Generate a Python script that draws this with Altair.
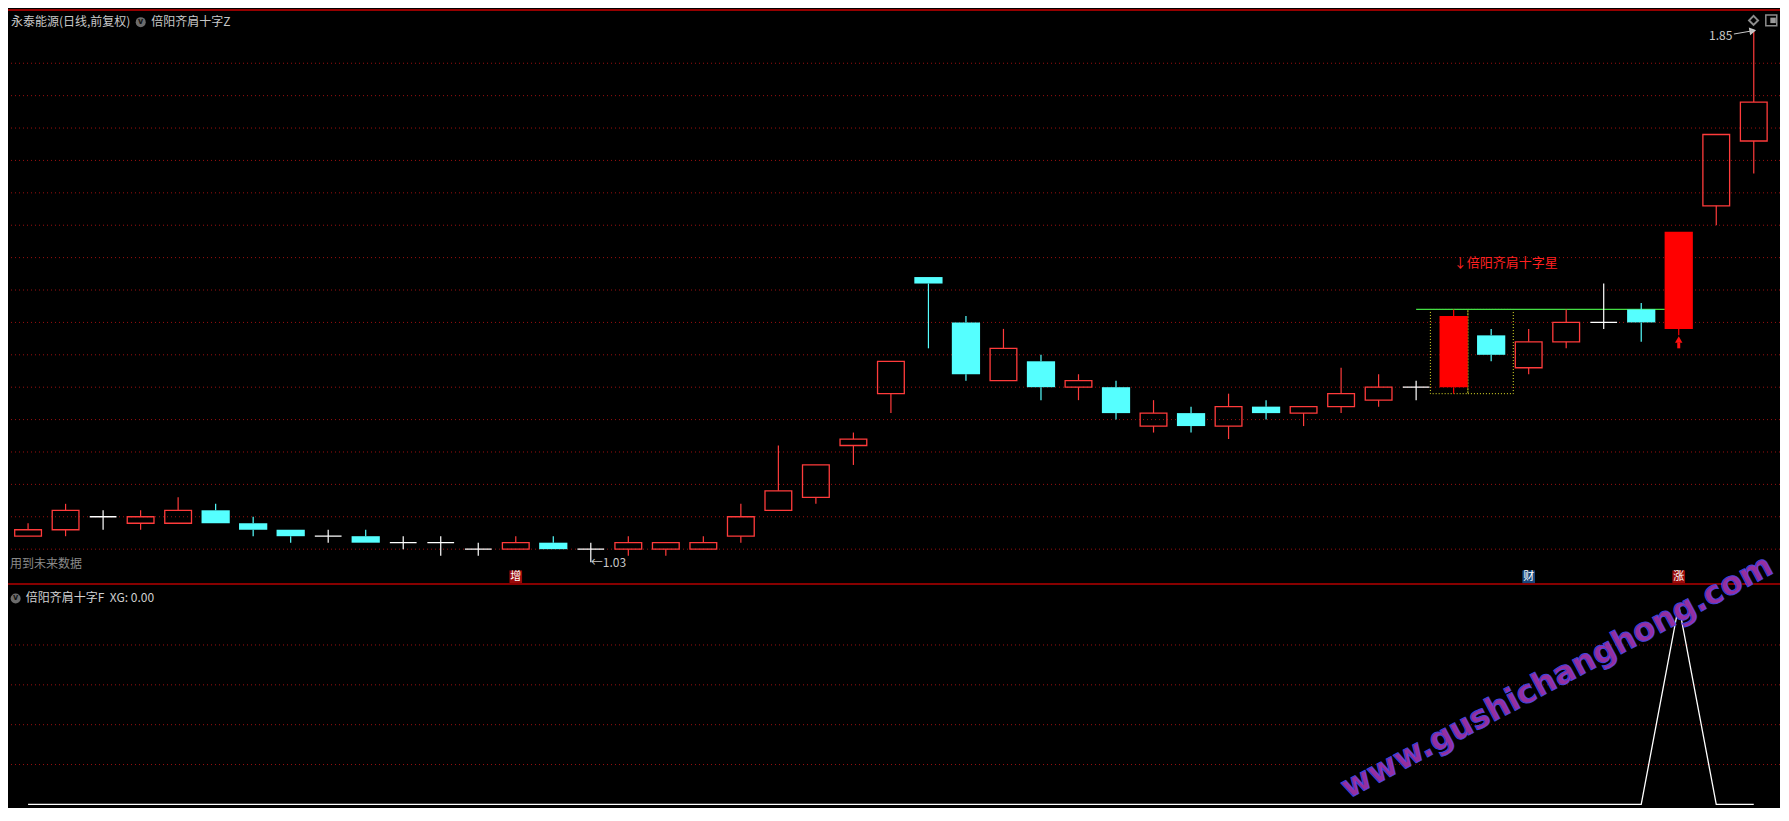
import altair as alt
import pandas as pd

# ---------------- data: 永泰能源 (日线, 前复权) ----------------
opens = [1.07, 1.08, 1.10, 1.09, 1.09, 1.11, 1.09, 1.08, 1.07, 1.07,
         1.06, 1.06, 1.05, 1.05, 1.06, 1.05, 1.05, 1.05, 1.05, 1.07,
         1.11, 1.13, 1.21, 1.29, 1.47, 1.40, 1.31, 1.34, 1.30, 1.30,
         1.24, 1.26, 1.24, 1.27, 1.26, 1.27, 1.28, 1.30, 1.30, 1.38,
         1.33, 1.37, 1.40, 1.42, 1.39, 1.58, 1.68]
highs = [1.09, 1.12, 1.11, 1.11, 1.13, 1.12, 1.10, 1.08, 1.08, 1.08,
         1.07, 1.07, 1.06, 1.07, 1.07, 1.06, 1.07, 1.06, 1.07, 1.12,
         1.21, 1.18, 1.23, 1.34, 1.47, 1.41, 1.39, 1.35, 1.32, 1.31,
         1.28, 1.27, 1.29, 1.28, 1.27, 1.33, 1.32, 1.31, 1.42, 1.39,
         1.39, 1.42, 1.46, 1.43, 1.54, 1.69, 1.85]
lows = [1.07, 1.07, 1.08, 1.08, 1.09, 1.09, 1.07, 1.06, 1.06, 1.06,
        1.05, 1.04, 1.04, 1.05, 1.05, 1.03, 1.04, 1.04, 1.05, 1.06,
        1.11, 1.12, 1.18, 1.26, 1.36, 1.31, 1.31, 1.28, 1.28, 1.25,
        1.23, 1.23, 1.22, 1.25, 1.24, 1.26, 1.27, 1.28, 1.29, 1.34,
        1.32, 1.36, 1.39, 1.37, 1.38, 1.55, 1.63]
closes = [1.08, 1.11, 1.10, 1.10, 1.11, 1.09, 1.08, 1.07, 1.07, 1.06,
          1.06, 1.06, 1.05, 1.06, 1.05, 1.05, 1.06, 1.06, 1.06, 1.10,
          1.14, 1.18, 1.22, 1.34, 1.46, 1.32, 1.36, 1.30, 1.31, 1.26,
          1.26, 1.24, 1.27, 1.26, 1.27, 1.29, 1.30, 1.30, 1.41, 1.35,
          1.37, 1.40, 1.40, 1.40, 1.54, 1.69, 1.74]
xg_values = [0, 0, 0, 0, 0, 0, 0, 0, 0, 0,
             0, 0, 0, 0, 0, 0, 0, 0, 0, 0,
             0, 0, 0, 0, 0, 0, 0, 0, 0, 0,
             0, 0, 0, 0, 0, 0, 0, 0, 0, 0,
             0, 0, 0, 0, 1, 0, 0]
special_days = [38, 44]          # 倍阳 candles drawn solid red
grid_prices = [1.05, 1.10, 1.15, 1.20, 1.25, 1.30, 1.35, 1.40,
               1.45, 1.50, 1.55, 1.60, 1.65, 1.70, 1.75, 1.80]
xg_grid = [0.2, 0.4, 0.6, 0.8]
marker_days = [13, 40, 44]
marker_labels = ["增", "财", "涨"]
marker_colors = ["#9a0a0a", "#16467c", "#9a0a0a"]
marker_price = [1.0074, 1.0074, 1.0074]
shoulder_start, shoulder_end, shoulder_level = 37.0, 43.63, 1.42
box_left = [37.38, 38.38]
box_right = [38.38, 39.59]
box_low = [1.29, 1.29]
box_high = [1.42, 1.42]
signal_text = ["↓倍阳齐肩十字星"]
signal_text_pos = [38.0, 1.491]
arrow_day = [44]
arrow_head_price = [1.3735]
arrow_stem = [1.3690, 1.3600]
low_label = ["←1.03"]
low_label_pos = [15.0, 1.0291]
high_label = ["1.85"]
high_label_pos = [45.43, 1.842]
high_arrow = [45.47, 45.96, 1.8451, 1.8500]
watermark = ["www.gushichanghong.com"]
watermark_pos = [40.75, 0.64]

# ---------------- layout ----------------
W, H = 1772, 800
RW, RH = 1789, 821
SX, SY = W / RW, H / RH


def px(v):
    return v * SX


def py(v):
    return v * SY


X0, DX = 15.3, 38.09
XLO, XHI = (0 - X0) / DX, (RW - X0) / DX
PY0, PPU = 56.7, 664.9
PLO = 1.80 - (591 - PY0) / PPU
PHI = 1.80 + PY0 / PPU
GY0, GPU = 817.3, 204.5
GLO = (GY0 - RH) / GPU
GHI = (GY0 - 591) / GPU

FONT = "Noto Sans CJK SC"

xs = alt.Scale(domain=[XLO, XHI], range=[0, W], zero=False, nice=False)
ps = alt.Scale(domain=[PLO, PHI], range=[py(591), 0], zero=False, nice=False)
gs = alt.Scale(domain=[GLO, GHI], range=[H, py(591)], zero=False, nice=False)

kinds = ["up", "down", "doji", "special"]
kind_colors = ["#ff3b3b", "#55ffff", "#ffffff", "#ff0000"]
cscale = alt.Scale(domain=kinds, range=kind_colors)

df = pd.DataFrame({"idx": list(range(len(opens))), "o": opens, "h": highs,
                   "l": lows, "c": closes})
df["top"] = df[["o", "c"]].max(axis=1)
df["bot"] = df[["o", "c"]].min(axis=1)


def kind_of(r):
    if int(r.idx) in special_days:
        return "special"
    if r.c > r.o:
        return "up"
    if r.c < r.o:
        return "down"
    return "doji"


df["kind"] = [kind_of(r) for r in df.itertuples()]


def X(f="idx"):
    return alt.X(f + ":Q", scale=xs, axis=None)


def YP(f):
    return alt.Y(f + ":Q", scale=ps, axis=None)


def YG(f):
    return alt.Y(f + ":Q", scale=gs, axis=None)


COL = alt.Color("kind:N", scale=cscale, legend=None)

layers = []

# grid lines
layers.append(alt.Chart(pd.DataFrame({"p": grid_prices})).mark_rule(
    color="#9a1010", strokeDash=[1, 3], strokeWidth=1).encode(y=YP("p")))
layers.append(alt.Chart(pd.DataFrame({"g": xg_grid})).mark_rule(
    color="#9a1010", strokeDash=[1, 3], strokeWidth=1).encode(y=YG("g")))

# frame lines
frame = pd.DataFrame({"k": [0]})
layers.append(alt.Chart(frame).mark_rule(color="#c80000", strokeWidth=1.5).encode(
    x=alt.value(0), x2=alt.value(W), y=alt.value(py(2))))
layers.append(alt.Chart(frame).mark_rule(color="#b40000", strokeWidth=1.5).encode(
    x=alt.value(0), x2=alt.value(W), y=alt.value(py(591))))

# yellow dotted boxes + green shoulder line
layers.append(alt.Chart(pd.DataFrame({"x0": box_left, "x1": box_right,
                                      "p0": box_low, "p1": box_high})).mark_rect(
    fillOpacity=0, stroke="#e6e62a", strokeDash=[1, 2], strokeWidth=1).encode(
    x=X("x0"), x2="x1", y=YP("p0"), y2="p1"))
layers.append(alt.Chart(pd.DataFrame({"x0": [shoulder_start], "x1": [shoulder_end],
                                      "p": [shoulder_level]})).mark_rule(
    color="#44dd44", strokeWidth=1.3).encode(x=X("x0"), x2="x1", y=YP("p")))

# wicks
layers.append(alt.Chart(df).mark_rule(strokeWidth=1.2).encode(
    x=X(), y=YP("top"), y2="h", color=COL))
layers.append(alt.Chart(df).mark_rule(strokeWidth=1.2).encode(
    x=X(), y=YP("bot"), y2="l", color=COL))

# bodies
hollow = df[df["kind"].isin(["up", "doji"])]
solid = df[df["kind"].isin(["down", "special"])]
layers.append(alt.Chart(hollow).mark_bar(
    filled=False, size=27 * SX, strokeWidth=1.3, orient="vertical").encode(
    x=X(), y=YP("top"), y2="bot", color=COL))
layers.append(alt.Chart(solid).mark_bar(
    size=28.5 * SX, orient="vertical").encode(
    x=X(), y=YP("top"), y2="bot", color=COL))

# signal text and arrow
layers.append(alt.Chart(pd.DataFrame({"t": signal_text, "x": [signal_text_pos[0]],
                                      "p": [signal_text_pos[1]]})).mark_text(
    align="left", baseline="middle", font=FONT, fontSize=13, color="#ff2020").encode(
    x=X("x"), y=YP("p"), text="t:N"))
layers.append(alt.Chart(pd.DataFrame({"x": arrow_day, "p0": [arrow_stem[0]],
                                      "p1": [arrow_stem[1]]})).mark_rule(
    color="#ff1010", strokeWidth=3).encode(x=X("x"), y=YP("p0"), y2="p1"))
layers.append(alt.Chart(pd.DataFrame({"x": arrow_day, "p": arrow_head_price})).mark_point(
    shape="triangle-up", filled=True, size=55, color="#ff1010", opacity=1).encode(
    x=X("x"), y=YP("p")))

# price labels
layers.append(alt.Chart(pd.DataFrame({"t": low_label, "x": [low_label_pos[0]],
                                      "p": [low_label_pos[1]]})).mark_text(
    align="left", baseline="middle", font=FONT, fontSize=12, color="#c8c8c8").encode(
    x=X("x"), y=YP("p"), text="t:N"))
layers.append(alt.Chart(pd.DataFrame({"t": high_label, "x": [high_label_pos[0]],
                                      "p": [high_label_pos[1]]})).mark_text(
    align="right", baseline="middle", font=FONT, fontSize=12, color="#c8c8c8").encode(
    x=X("x"), y=YP("p"), text="t:N"))
layers.append(alt.Chart(pd.DataFrame({"x0": [high_arrow[0]], "x1": [high_arrow[1]],
                                      "p0": [high_arrow[2]], "p1": [high_arrow[3]]})).mark_rule(
    color="#c8c8c8", strokeWidth=1).encode(x=X("x0"), x2="x1", y=YP("p0"), y2="p1"))
layers.append(alt.Chart(pd.DataFrame({"x": [high_arrow[1]], "p": [high_arrow[3]]})).mark_point(
    shape="triangle-right", filled=False, size=18, color="#c8c8c8", angle=350, opacity=1).encode(
    x=X("x"), y=YP("p")))

# bottom markers 增 / 财 / 涨
mk = pd.DataFrame({"x": marker_days, "p": marker_price, "t": marker_labels,
                   "bg": marker_colors})
layers.append(alt.Chart(mk).mark_square(size=160, opacity=1).encode(
    x=X("x"), y=YP("p"), color=alt.Color("bg:N", scale=None)))
layers.append(alt.Chart(mk).mark_text(font=FONT, fontSize=11, color="white",
                                      baseline="middle").encode(
    x=X("x"), y=YP("p"), text="t:N"))

# XG line
layers.append(alt.Chart(pd.DataFrame({"idx": list(range(len(xg_values))),
                                      "g": xg_values})).mark_line(
    color="white", strokeWidth=1.3).encode(x=X(), y=YG("g")))


# headers
def label(text, xr, yr, color, size=12, align="left", font=FONT, weight="normal"):
    return alt.Chart(pd.DataFrame({"t": [text]})).mark_text(
        align=align, baseline="middle", font=font, fontSize=size, color=color,
        fontWeight=weight).encode(x=alt.value(px(xr)), y=alt.value(py(yr)), text="t:N")


def icon(xr, yr):
    c = alt.Chart(pd.DataFrame({"t": ["o"]})).mark_circle(
        color="#6c6c6c", size=100, opacity=1).encode(
        x=alt.value(px(xr)), y=alt.value(py(yr)))
    return [c, label("v", xr, yr, "#111111", size=8, align="center",
                     font="DejaVu Sans", weight="bold")]


layers.append(label("永泰能源(日线,前复权)", 3, 14.5, "#c8c8c8"))
layers += icon(134, 14.5)
layers.append(label("倍阳齐肩十字Z", 144.7, 14.5, "#c8c8c8"))
layers.append(label("用到未来数据", 2, 571, "#8a8a8a"))
layers += icon(7.7, 606)
layers.append(label("倍阳齐肩十字F\u00a0\u00a0XG: 0.00", 18, 606, "#d0d0d0"))

# top-right toolbar icons
layers.append(alt.Chart(frame).mark_point(shape="diamond", filled=False, size=80,
                                          color="#8c8c8c", opacity=1).encode(
    x=alt.value(px(1762.3)), y=alt.value(py(12.7))))
layers.append(alt.Chart(frame).mark_point(shape="square", filled=False, size=120,
                                          color="#8c8c8c", strokeWidth=1.5, opacity=1).encode(
    x=alt.value(px(1780.2)), y=alt.value(py(12.7))))
layers.append(alt.Chart(frame).mark_point(shape="square", filled=True, size=30,
                                          color="#9a9a9a", opacity=1).encode(
    x=alt.value(px(1782.0)), y=alt.value(py(12.7))))

# watermark
layers.append(alt.Chart(pd.DataFrame({"t": watermark, "x": [watermark_pos[0]],
                                      "g": [watermark_pos[1]]})).mark_text(
    font="DejaVu Sans", fontSize=32, fontWeight="bold", angle=332,
    align="center", baseline="middle", color="#952f9f", stroke="#4444dd",
    strokeWidth=1).encode(x=X("x"), y=YG("g"), text="t:N"))

chart = alt.layer(*layers).resolve_scale(y="independent").properties(
    width=W, height=H, padding=0,
    autosize=alt.AutoSizeParams(type="none"),
    background="#000000",
).configure_view(stroke=None)

chart.save("out.html", embed_options={"renderer": "svg", "actions": False})
